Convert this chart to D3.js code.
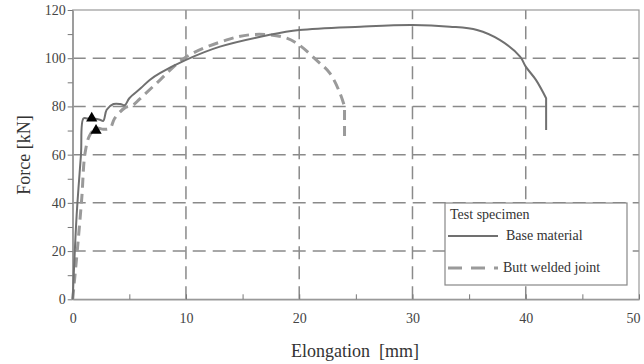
<!DOCTYPE html>
<html><head><meta charset="utf-8">
<script src="https://cdn.jsdelivr.net/npm/d3@7"></script>
<style>body{margin:0;background:#fff}svg{display:block}</style>
</head><body><svg id="c" width="644" height="364" font-family="'Liberation Serif', 'DejaVu Serif', serif"></svg>
<script>
const xTicks = [0,10,20,30,40,50];
const yTicks = [0,20,40,60,80,100,120];
const baseX = [0,0.35,0.73,0.95,1.3,1.9,2.4,2.7,3.0,3.6,4.2,4.6,5.0,6.0,6.8,7.7,10,13,17.4,20,25.4,30,33.3,35.7,37.7,39.5,40,40.9,41.8,41.8];
const baseY = [0,35,60,75,75,75,74.5,74,78.6,81,81,80.5,83.4,87.5,91,93.8,99.3,104.8,109.7,111.7,113.1,113.8,113.1,111.7,107.6,100.7,96.5,91,83.4,70.2];
const weldX = [0,0.4,0.8,1.09,1.5,2.1,2.7,3.3,3.7,4.6,5.3,5.9,7.4,10,13.6,15.6,17.4,18.9,20,21.5,22.7,23.6,24.0,24.0];
const weldY = [0,20,42,60.6,68,71,70.5,71,75,79.4,80.5,83,89.6,100.5,107.6,109.7,109.7,108.3,105.5,99.3,93.8,85.5,80,65.4];
const markX = [1.68,2.06];
const markY = [75.1,70];
const legendTitle = "Test specimen";
const seriesNames = ["Base material","Butt welded joint"];

const FONT = "'Liberation Serif', 'DejaVu Serif', serif";
const svg = d3.select("#c");
const L=72.7,R=639,T=10,B=299.3;
const x = d3.scaleLinear().domain([0,50]).range([L,R]);
const y = d3.scaleLinear().domain([0,120]).range([B,T]);
const grid="#8a8a8a";

svg.append("g").selectAll("line").data([20,40,60,80,100]).join("line")
  .attr("x1",L).attr("x2",R).attr("y1",d=>y(d)).attr("y2",d=>y(d))
  .attr("stroke",grid).attr("stroke-width",1.5).attr("stroke-dasharray","13,7");
svg.append("g").selectAll("line").data([10,20,30,40]).join("line")
  .attr("x1",d=>x(d)).attr("x2",d=>x(d)).attr("y1",B).attr("y2",T)
  .attr("stroke",grid).attr("stroke-width",1.5).attr("stroke-dasharray","13,7");

svg.append("rect").attr("x",L).attr("y",T).attr("width",R-L).attr("height",B-T)
  .attr("fill","none").attr("stroke","#999").attr("stroke-width",1.2);

const xa = svg.append("g").attr("transform",`translate(0,${B})`)
  .call(d3.axisBottom(x).tickValues(d3.range(0,51,5)).tickSizeInner(-5).tickSizeOuter(0).tickFormat(d=>xTicks.includes(d)?d:""));
xa.attr("font-family",FONT);
xa.select(".domain").attr("stroke","#999").attr("stroke-width",1.5);
xa.selectAll(".tick line").attr("stroke","#777");
xa.selectAll("text").attr("font-size",14).attr("dy","1.45em").attr("fill","#444")
  .attr("dx",d=>d===50?-6:0);
const ya = svg.append("g").attr("transform",`translate(${L},0)`)
  .call(d3.axisLeft(y).tickValues(d3.range(0,121,10)).tickSizeInner(5).tickSizeOuter(0).tickFormat(d=>yTicks.includes(d)?d:""));
ya.attr("font-family",FONT);
ya.select(".domain").attr("stroke","#999").attr("stroke-width",1.5);
ya.selectAll(".tick line").attr("stroke","#777");
ya.selectAll("text").attr("font-size",14).attr("x",-7).attr("fill","#444");

const cr = d3.line().x(d=>x(d[0])).y(d=>y(d[1])).curve(d3.curveCatmullRom.alpha(0.5));
const wPts = weldX.map((v,i)=>[v,weldY[i]]);
const bPts = baseX.map((v,i)=>[v,baseY[i]]);
// main curved part, then straight final drop
svg.append("path").datum(wPts).attr("d",d=>cr(d.slice(0,-1))+d3.line().x(p=>x(p[0])).y(p=>y(p[1]))(d.slice(-2)).replace("M","L"))
  .attr("fill","none").attr("stroke","#9a9a9a").attr("stroke-width",3).attr("stroke-dasharray","10,6");
svg.append("path").datum(bPts).attr("d",d=>cr(d.slice(0,-1))+d3.line().x(p=>x(p[0])).y(p=>y(p[1]))(d.slice(-2)).replace("M","L"))
  .attr("fill","none").attr("stroke","#707070").attr("stroke-width",2);

svg.append("g").selectAll("path").data(markX.map((v,i)=>[v,markY[i]])).join("path")
  .attr("transform",d=>`translate(${x(d[0])},${y(d[1])})`)
  .attr("d",d3.symbol(d3.symbolTriangle,55)).attr("fill","#000");

const lg = svg.append("g").attr("font-family",FONT).attr("fill","#333");
lg.append("rect").attr("x",445).attr("y",203).attr("width",182).attr("height",82)
  .attr("fill","#fff").attr("stroke","#888").attr("stroke-width",1.2);
lg.append("text").attr("x",450).attr("y",219).attr("font-size",14).text(legendTitle);
lg.append("line").attr("x1",448).attr("x2",498).attr("y1",236).attr("y2",236).attr("stroke","#707070").attr("stroke-width",2);
lg.append("text").attr("x",506).attr("y",240).attr("font-size",14).text(seriesNames[0]);
lg.append("line").attr("x1",448).attr("x2",498).attr("y1",268).attr("y2",268).attr("stroke","#9a9a9a").attr("stroke-width",3).attr("stroke-dasharray","14,9");
lg.append("text").attr("x",503).attr("y",272).attr("font-size",14).text(seriesNames[1]);

svg.append("text").attr("transform","translate(30,155) rotate(-90)").attr("text-anchor","middle").attr("font-size",18).attr("fill","#333").text("Force [kN]");
svg.append("text").attr("x",355).attr("y",357).attr("text-anchor","middle").attr("font-size",18).attr("fill","#333").attr("xml:space","preserve").text("Elongation  [mm]");
</script></body></html>
